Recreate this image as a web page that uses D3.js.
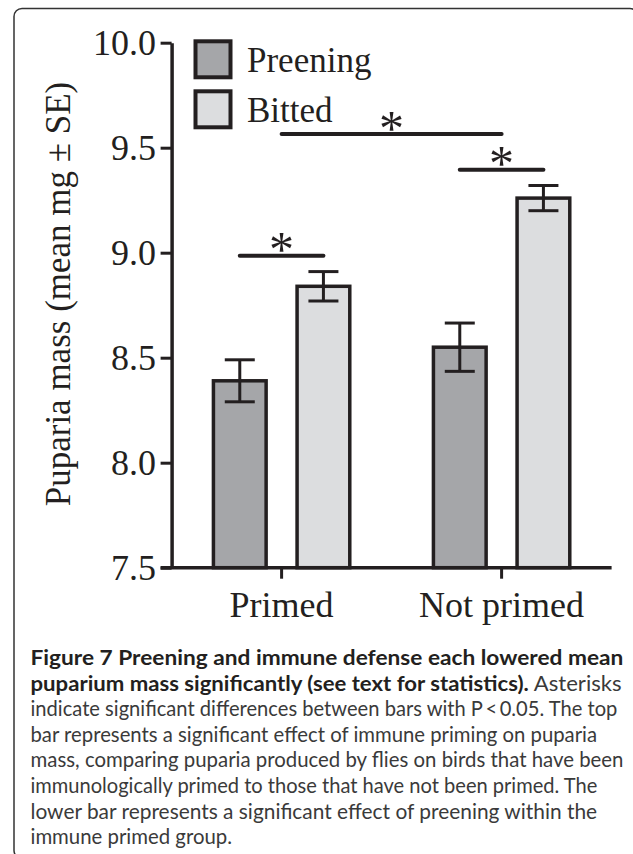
<!DOCTYPE html>
<html>
<head>
<meta charset="utf-8">
<script src="https://cdn.jsdelivr.net/npm/d3@7"></script>
<style>
  html, body { margin: 0; padding: 0; background: #fff; }
  svg { display: block; }
</style>
</head>
<body>
<svg id="chart" width="633" height="854"></svg>
<script>
// ---- data ----
const categories = ["Primed", "Not primed"];
const series = ["Preening", "Bitted"];
const preeningMean = [8.39, 8.55];
const preeningSE = [0.10, 0.115];
const bittedMean = [8.84, 9.26];
const bittedSE = [0.07, 0.06];
const yTicks = [7.5, 8.0, 8.5, 9.0, 9.5, 10.0];
const yDomain = [7.5, 10.0];
const yLabel = "Puparia mass (mean mg \u00B1 SE)";
// significance brackets (from/to: category + optional series)
const sigFromCat = ["Primed", "Not primed", "Primed"];
const sigFromSeries = [null, "Preening", "Preening"];
const sigToCat = ["Not primed", "Not primed", "Primed"];
const sigToSeries = [null, "Bitted", "Bitted"];
const sigLevel = [9.565, 9.395, 8.985];
const sigMark = ["*", "*", "*"];
// caption
const captionLines = [
  [{t: "Figure 7 Preening and immune defense each lowered mean", b: true}],
  [{t: "puparium mass significantly (see text for statistics).", b: true}, {t: " Asterisks", b: false}],
  [{t: "indicate significant differences between bars with P\u2009<\u20090.05. The top", b: false}],
  [{t: "bar represents a significant effect of immune priming on puparia", b: false}],
  [{t: "mass, comparing puparia produced by flies on birds that have been", b: false}],
  [{t: "immunologically primed to those that have not been primed. The", b: false}],
  [{t: "lower bar represents a significant effect of preening within the", b: false}],
  [{t: "immune primed group.", b: false}]
];
const captionEnds = [623.7, 621.7, 617.7, 597.5, 623.7, 597.5, 597.5, null];

(function () {
// ---- layout ----
const svg = d3.select("#chart");
const INK = "#231f20";
const serif = "'Liberation Serif', 'Times New Roman', serif";
const pLeft = 171.6, pRight = 611.6, pTop = 42.7, pBottom = 567.7;
const fills = {Preening: "#a5a6a9", Bitted: "#dcdddf"};

// frame
svg.append("rect")
  .attr("x", 14).attr("y", 8.5).attr("width", 624).attr("height", 850)
  .attr("rx", 8).attr("fill", "none").attr("stroke", "#333").attr("stroke-width", 1.5);

const y = d3.scaleLinear().domain(yDomain).range([pBottom, pTop]);
const x0 = d3.scaleBand().domain(categories).range([pLeft, pRight]);
const x1 = d3.scaleBand().domain(series).range([0, x0.bandwidth()])
  .paddingInner(0.37).paddingOuter(0.5);

const rows = [];
categories.forEach((c, i) => {
  rows.push({cat: c, ser: "Preening", mean: preeningMean[i], se: preeningSE[i]});
  rows.push({cat: c, ser: "Bitted", mean: bittedMean[i], se: bittedSE[i]});
});

// bars
svg.append("g").selectAll("rect").data(rows).join("rect")
  .attr("x", d => x0(d.cat) + x1(d.ser))
  .attr("y", d => y(d.mean))
  .attr("width", x1.bandwidth())
  .attr("height", d => y(yDomain[0]) - y(d.mean))
  .attr("fill", d => fills[d.ser])
  .attr("stroke", INK).attr("stroke-width", 3.5);

// error bars
const capW = 30;
const eg = svg.append("g").attr("stroke", INK).attr("stroke-width", 3).attr("fill", "none");
rows.forEach(d => {
  const cx = x0(d.cat) + x1(d.ser) + x1.bandwidth() / 2;
  const yt = y(d.mean + d.se), yb = y(d.mean - d.se);
  eg.append("line").attr("x1", cx).attr("x2", cx).attr("y1", yt).attr("y2", yb);
  eg.append("line").attr("x1", cx - capW/2).attr("x2", cx + capW/2).attr("y1", yt).attr("y2", yt);
  eg.append("line").attr("x1", cx - capW/2).attr("x2", cx + capW/2).attr("y1", yb).attr("y2", yb);
});

// axes
const yAxis = d3.axisLeft(y).tickValues(yTicks).tickFormat(d3.format(".1f"))
  .tickSize(11).tickSizeOuter(0).tickPadding(4.6);
const gy = svg.append("g").attr("transform", `translate(${pLeft},0)`).call(yAxis);
gy.select(".domain").attr("stroke", INK).attr("stroke-width", 3.5);
gy.selectAll(".tick line").attr("stroke", INK).attr("stroke-width", 3);
gy.selectAll(".tick text").attr("font-family", serif).attr("font-size", 36).attr("fill", INK);

const xAxis = d3.axisBottom(x0).tickSize(11).tickSizeOuter(0).tickPadding(12.4);
const gx = svg.append("g").attr("transform", `translate(0,${pBottom})`).call(xAxis);
gx.select(".domain").attr("stroke", INK).attr("stroke-width", 3.5)
  .attr("d", `M${pLeft - 11},0H${pRight}`);
gx.selectAll(".tick line").attr("stroke", INK).attr("stroke-width", 3);
gx.selectAll(".tick text").attr("font-family", serif).attr("font-size", 36).attr("fill", INK);

// y label
svg.append("text")
  .attr("transform", `translate(70,294) rotate(-90)`)
  .attr("text-anchor", "middle")
  .attr("font-family", serif).attr("font-size", 35).attr("fill", INK)
  .text(yLabel);

// legend
const lg = svg.append("g");
series.forEach((s, i) => {
  lg.append("rect").attr("x", 195.5).attr("y", 41.3 + i * 50).attr("width", 35).attr("height", 36)
    .attr("fill", fills[s]).attr("stroke", INK).attr("stroke-width", 4);
  lg.append("text").attr("x", 247).attr("y", 71.7 + i * 50)
    .attr("font-family", serif).attr("font-size", 35).attr("fill", INK).text(s);
});

// significance brackets
const posX = (c, s) => s ? x0(c) + x1(s) + x1.bandwidth() / 2 : x0(c) + x0.bandwidth() / 2;
sigLevel.forEach((lv, i) => {
  const xa = posX(sigFromCat[i], sigFromSeries[i]);
  const xb = posX(sigToCat[i], sigToSeries[i]);
  const yy = y(lv);
  svg.append("line").attr("x1", xa).attr("x2", xb).attr("y1", yy).attr("y2", yy)
    .attr("stroke", INK).attr("stroke-width", 4).attr("stroke-linecap", "round");
  const t = svg.append("text").attr("font-family", serif).attr("font-size", 50)
    .attr("fill", INK).attr("text-anchor", "middle").attr("x", 0).attr("y", 0).text(sigMark[i]);
  const bb = t.node().getBBox();
  const inkCy = bb.y + bb.height * 0.33;
  t.attr("x", (xa + xb) / 2).attr("y", yy - 16 - inkCy);
});

// caption
const capFont = "Lato, 'Open Sans', sans-serif";
const capX = 30.5, capY0 = 665, capDY = 25.6;
const scales = [];
captionLines.forEach((segs, i) => {
  const t = svg.append("text").attr("x", 0).attr("y", 0)
    .attr("font-family", capFont).attr("font-size", 21);
  segs.forEach(sg => {
    t.append("tspan").attr("font-weight", sg.b ? 700 : 400)
      .attr("fill", sg.b ? INK : "#3a3a3a").text(sg.t);
  });
  const w = t.node().getComputedTextLength();
  let sx;
  if (captionEnds[i] != null) { sx = (captionEnds[i] - capX) / w; if (!segs[0].b) scales.push(sx); }
  else { sx = d3.mean(scales); }
  t.attr("transform", `translate(${capX},${capY0 + i * capDY}) scale(${sx},1)`);
});
})();
</script>
</body>
</html>
